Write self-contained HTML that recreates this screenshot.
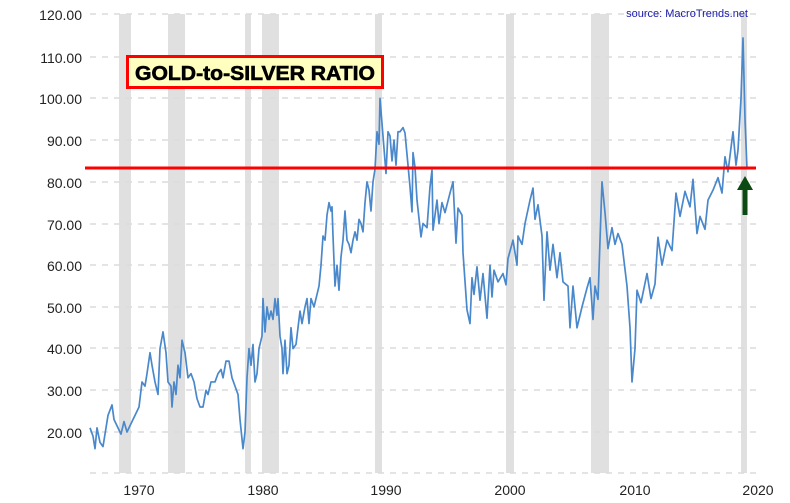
<!DOCTYPE html>
<html><head><meta charset="utf-8"><style>
body{margin:0;background:#fff;}
svg text{font-family:"Liberation Sans",sans-serif;}
</style></head><body>
<svg width="790" height="498" viewBox="0 0 790 498" xmlns="http://www.w3.org/2000/svg">
<g fill="#e0e0e0">
<rect x="119" y="14" width="12" height="459"/>
<rect x="168" y="14" width="17" height="459"/>
<rect x="245" y="14" width="6" height="459"/>
<rect x="262" y="14" width="17" height="459"/>
<rect x="375" y="14" width="7" height="459"/>
<rect x="506" y="14" width="8" height="459"/>
<rect x="591" y="14" width="18" height="459"/>
<rect x="741" y="14" width="6" height="459"/>
</g>
<g stroke="#dcdcdc" stroke-width="1.5" stroke-dasharray="6,6">
<line x1="90" x2="760" y1="14" y2="14"/><line x1="90" x2="760" y1="57" y2="57"/>
<line x1="90" x2="760" y1="98" y2="98"/><line x1="90" x2="760" y1="140" y2="140"/>
<line x1="90" x2="760" y1="182" y2="182"/><line x1="90" x2="760" y1="224" y2="224"/>
<line x1="90" x2="760" y1="265" y2="265"/><line x1="90" x2="760" y1="307" y2="307"/>
<line x1="90" x2="760" y1="348" y2="348"/><line x1="90" x2="760" y1="390" y2="390"/>
<line x1="90" x2="760" y1="432" y2="432"/><line x1="90" x2="760" y1="473" y2="473"/>
</g>
<g font-size="14" fill="#222" text-anchor="end">
<text x="82" y="20">120.00</text><text x="82" y="63">110.00</text><text x="82" y="104">100.00</text>
<text x="82" y="146">90.00</text><text x="82" y="188">80.00</text><text x="82" y="230">70.00</text>
<text x="82" y="271">60.00</text><text x="82" y="313">50.00</text><text x="82" y="354">40.00</text>
<text x="82" y="396">30.00</text><text x="82" y="438">20.00</text>
</g>
<g font-size="14" fill="#222" text-anchor="middle">
<text x="139" y="495">1970</text><text x="263" y="495">1980</text><text x="386" y="495">1990</text>
<text x="510" y="495">2000</text><text x="635" y="495">2010</text><text x="758" y="495">2020</text>
</g>
<g transform="translate(0,432) scale(1,-4.17) translate(0,-20)">
<polyline fill="none" stroke="#4a88cc" stroke-width="1.7" vector-effect="non-scaling-stroke" stroke-linejoin="round" points="
90,21 93,19 95,16 97,21 100,17.5 103,16.5 106,21 108,24 112,26.5 114,23 117,21.5 121,19.5 124,22.5 127,20 131,22 135,24 139,26 142,32 145,31 147,34 150,39 152,36 155,32 158,29 160,40 163,44 166,39 168,32 171,31 172,26 174,32 176,29 178,36 180,33 182,42 185,39 188,33 191,34 194,32 197,28 200,26 203,26 206,30 208,29 211,32 215,32 218,34 221,35 223,33 226,37 229,37 232,33 235,31 238,29 240,23 243,16 245,20 247,33 249,40 251,36 253,41 255,32 257,34 259,40 262,43 263,52 265,44 267,50 269,47 271,49 273,47 275,52 277,48 278,52 280,43 282,40 283,34 285,42 287,34 289,36 291,45 293,40 296,41 298,45 300,49 302,46 305,50 307,52 309,46 311,52 314,50 317,53 319,55 321,60 323,67 325,66 327,72 329,75 331,73 332,74 333,67 335,55 337,60 339,54 341,62 343,66 345,73 347,66 349,65 351,63 353,66 355,68 357,66 359,71 361,70 363,68 365,75 367,80 369,78 371,73 373,80 375,83 377,92 379,89 380,100 382,94 384,88 386,82 388,92 390,91 392,85 394,90 396,84 398,92 400,92 403,93 405,91.7 408,84 410,78.8 412,72.8 413,87 415,83.5 417,75.6 421,66.8 423,70 427,69 430,78.8 432,82.8 433,68.4 437,75.6 439,70 442,75 445,72.6 450,77.3 453,80 456,65.3 458,73.7 462,72 463,63 467,49.3 470,46 472,57 474,53 477,59.6 480,51.6 483,58 487,47.3 490,60 492,52.4 494,58.8 498,56 503,58 506,55.3 508,61.6 513,66 517,60 518,67 522,65 525,70 530,75.6 533,78.5 535,71 538,74.5 542,67 544,51.6 547,68 550,58.8 553,65 557,57 560,63 563,56 568,55 570,45 573,55 577,45 582,50 587,54.5 590,57 593,47 595,55 598,51.8 602,80 605,72.6 608,64 612,69 615,65 618,67.6 622,65 627,55 630,45 632,32 635,40 637,54 641,51 647,58 651,52 655,55.5 658,66.7 662,60 667,66 672,63.5 676,77.3 680,71.7 685,77.7 690,74 693,80.6 697,67.6 700,71.7 705,68.6 708,75.6 713,78 718,81 722,77.3 725,86 728,82.4 733,92 736,84 738,87.6 741,100 743,114.5 745,95 747,83"/>
</g>
<line x1="85" x2="756" y1="168" y2="168" stroke="#ff0000" stroke-width="3"/>
<rect x="127.5" y="56.5" width="255" height="31" fill="#ffffc0" stroke="#ff0000" stroke-width="3"/>
<text x="255" y="80" text-anchor="middle" font-size="20" font-weight="bold" fill="#000" stroke="#000" stroke-width="0.6" textLength="240" lengthAdjust="spacingAndGlyphs">GOLD-to-SILVER RATIO</text>
<text x="748" y="17" text-anchor="end" font-size="11" fill="#1a1aaa">source: MacroTrends.net</text>
<polygon points="745,176 737,190 753,190" fill="#0b4a12"/>
<rect x="742.5" y="189" width="5" height="26" fill="#0b4a12"/>
</svg>
</body></html>
